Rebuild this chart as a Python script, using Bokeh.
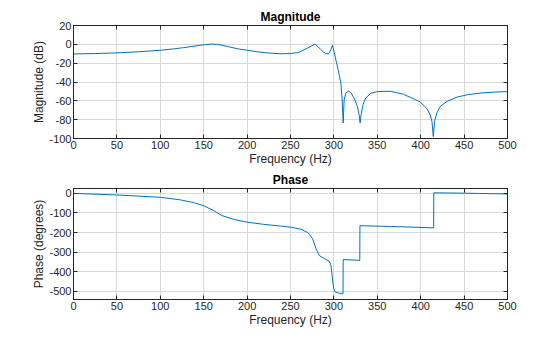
from bokeh.plotting import figure
from bokeh.layouts import column
from bokeh.models import LinearAxis, FixedTicker, Range1d
from bokeh.embed import file_html
from bokeh.resources import INLINE

# ---- data ----
mag_freq = [0, 25, 50, 75, 100, 115, 127, 140, 150, 155, 160, 165, 170, 180, 190, 200,
            212, 223, 238, 250, 258, 262, 266, 270, 274, 277.5, 279.5, 282, 285, 288,
            291, 293.5, 295, 296.6, 298.3, 299.2, 300.5, 302.3, 305, 308, 309.5, 310.7,
            311.8, 313.7, 316.8, 319.5, 323.3, 327.1, 329, 330.2, 331.3, 333.6, 336.6,
            342.4, 350, 365, 380, 391, 399, 407, 411, 413, 414.5, 416, 418.7, 422.7,
            430.5, 442, 454, 469.5, 485, 500]
mag_db = [-10.2, -9.8, -9.1, -7.9, -6.3, -4.9, -3.5, -1.8, -0.5, 0.0, 0.3, 0.0, -0.8,
          -2.8, -4.9, -6.3, -7.9, -9.1, -10.0, -9.8, -8.8, -7.5, -5.6, -3.8, -1.8, 0.0,
          -0.7, -2.8, -5.6, -8.2, -9.8, -10.2, -8.5, -5.6, -1.0, -4.0, -9.0, -16.8,
          -27.4, -41.4, -59.0, -83.5, -59.0, -52.0, -49.5, -51.2, -57.2, -66.0, -74.7,
          -83.5, -74.7, -64.0, -57.0, -52.0, -50.2, -49.8, -53.0, -57.5, -61.0, -68.0,
          -75.0, -82.0, -98.0, -82.0, -72.7, -65.7, -60.5, -56.0, -53.5, -51.7, -50.7,
          -50.2]

ph_freq = [0, 50, 100, 123, 138.5, 150, 161.5, 171, 184.6, 200, 219, 238.5, 250, 262,
           270, 275.6, 279.4, 283, 289, 294.7, 296.6, 298.5, 299.6, 301.5, 306, 310.5,
           310.7, 329.8, 330.0, 365, 414.9, 415.1, 450, 500]
ph_deg = [0, -8, -20, -33, -47, -63, -88, -113, -133, -147, -158, -167, -172, -183,
          -200, -233, -283, -317, -333, -347, -367, -442, -483, -503, -510, -513, -338,
          -342, -165, -169, -176, 3, 1, -3]

x_ticks = [0, 50, 100, 150, 200, 250, 300, 350, 400, 450, 500]
mag_ticks = [-100, -80, -60, -40, -20, 0, 20]
ph_ticks = [-500, -400, -300, -200, -100, 0]

AX = "#262626"
FONT = "Liberation Sans"
LINE = "#0072BD"


def make_fig(h, top, bottom, yr, yticks, title, ylabel):
    p = figure(width=560, height=h, output_backend="svg", toolbar_location=None,
               x_range=Range1d(0, 500), y_range=Range1d(*yr),
               min_border_left=73, min_border_right=53,
               min_border_top=top, min_border_bottom=bottom,
               x_axis_label="Frequency (Hz)", y_axis_label=ylabel)
    p.title.text = title
    p.title.align = "center"
    p.title.text_font = FONT
    p.title.text_font_size = "12px"
    p.title.text_font_style = "bold"
    p.title.text_color = "#000000"
    p.title.standoff = 4
    p.outline_line_color = AX
    for ax, ticks in ((p.xaxis[0], x_ticks), (p.yaxis[0], yticks)):
        ax.ticker = FixedTicker(ticks=ticks)
        ax.major_label_overrides = {t: str(t) for t in ticks}
        ax.major_tick_in = 4
        ax.major_tick_out = 0
        ax.minor_tick_line_color = None
        ax.axis_line_color = AX
        ax.major_tick_line_color = AX
        ax.major_label_text_color = AX
        ax.major_label_text_font = FONT
        ax.major_label_text_font_size = "11px"
        ax.major_label_standoff = 2
        ax.axis_label_text_font = FONT
        ax.axis_label_text_font_size = "12px"
        ax.axis_label_text_font_style = "normal"
        ax.axis_label_text_color = AX
        ax.axis_label_standoff = 0
    for loc, ticks in (("above", x_ticks), ("right", yticks)):
        a = LinearAxis(ticker=FixedTicker(ticks=ticks), major_label_text_font_size="0px",
                       major_label_text_color=None,
                       major_label_standoff=0, major_tick_in=4, major_tick_out=0,
                       minor_tick_line_color=None, axis_line_color=AX,
                       major_tick_line_color=AX)
        p.add_layout(a, loc)
    p.xgrid.ticker = FixedTicker(ticks=x_ticks)
    p.ygrid.ticker = FixedTicker(ticks=yticks)
    p.grid.grid_line_color = "#d9d9d9"
    return p


p1 = make_fig(168, 25, 29, (-100, 20), mag_ticks, "Magnitude", "Magnitude (dB)")
p1.line(mag_freq, mag_db, line_color=LINE, line_width=1)

p2 = make_fig(169, 19, 38, (-542, 25), ph_ticks, "Phase", "Phase (degrees)")
p2.line(ph_freq, ph_deg, line_color=LINE, line_width=1)

layout = column(p1, p2)
open("out.html", "w").write(file_html(layout, INLINE))
